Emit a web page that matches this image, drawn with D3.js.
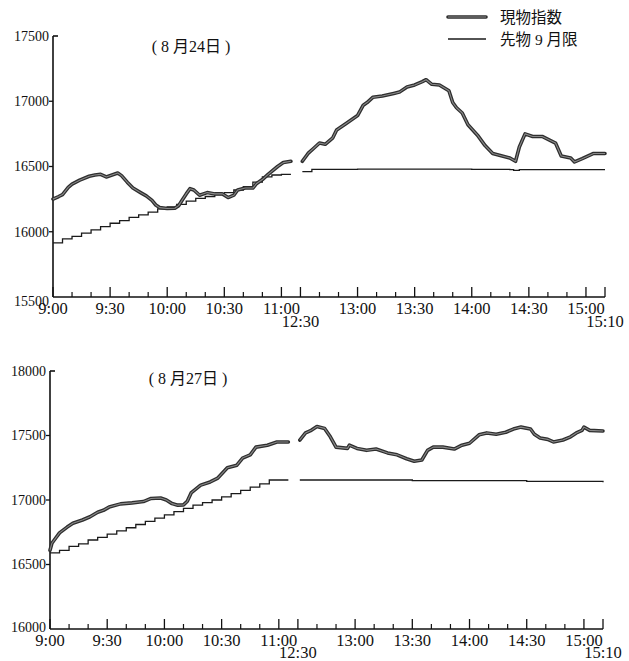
<!DOCTYPE html>
<html><head><meta charset="utf-8">
<script src="https://cdn.jsdelivr.net/npm/d3@7"></script>
<style>body{margin:0;background:#fff}svg{display:block}</style>
</head><body><svg id="c" width="629" height="661"></svg>
<script>
// ---------- data ----------
const seriesNames = ["現物指数", "先物 9 月限"];
const panelTitles = ["( 8 月24日 )", "( 8 月27日 )"];
const majorTickLabels = ["9:00","9:30","10:00","10:30","11:00","13:00","13:30","14:00","14:30","15:00"];
const secondRowLabels = ["12:30","15:10"];
const minorTickTimes = ["9:10","9:20","9:40","9:50","10:10","10:20","10:40","10:50","12:40","12:50","13:10","13:20","13:40","13:50","14:10","14:20","14:40","14:50"];
const yTicksTop = [15500,16000,16500,17000,17500];
const yTicksBottom = [16000,16500,17000,17500,18000];

// 8/24 cash index (現物指数)
const cash24Time = ["9:00","9:03","9:05","9:08","9:10","9:14","9:19","9:22","9:25","9:28","9:31","9:34","9:36","9:39","9:42","9:46","9:49","9:52","9:54","9:56","10:00","10:04","10:06","10:08","10:10","10:12","10:14","10:17","10:21","10:25","10:29","10:32","10:35","10:37","10:41","10:45","10:47","10:50","10:53","10:58","11:01","11:05",
 "12:31","12:34","12:37","12:40","12:43","12:47","12:49","12:54","13:00","13:03","13:05","13:08","13:13","13:19","13:22","13:26","13:30","13:34","13:36","13:39","13:43","13:48","13:50","13:52","13:55","13:58","14:03","14:07","14:11","14:15","14:20","14:23","14:25","14:28","14:32","14:37","14:44","14:47","14:52","14:54","14:58","15:04","15:10"];
const cash24Value = [16250,16270,16285,16340,16365,16395,16425,16435,16440,16420,16435,16450,16430,16380,16335,16300,16275,16240,16205,16185,16178,16180,16200,16245,16290,16330,16320,16280,16300,16290,16290,16262,16280,16320,16335,16335,16370,16400,16440,16500,16530,16540,
 16540,16600,16640,16680,16670,16720,16780,16830,16890,16970,16990,17030,17040,17060,17070,17110,17125,17150,17165,17130,17125,17080,16990,16950,16910,16820,16740,16660,16600,16585,16565,16540,16650,16750,16730,16730,16680,16580,16565,16535,16560,16600,16600];

// 8/24 futures (先物9月限)
const fut24Time = ["9:00","9:05","9:10","9:15","9:20","9:25","9:30","9:35","9:40","9:45","9:50","9:55","10:00","10:05","10:10","10:15","10:20","10:25","10:30","10:35","10:40","10:45","10:50","10:55","11:00","11:05",
 "12:31","12:36","13:00","13:30","14:00","14:20","14:22","14:25","15:10"];
const fut24Value = [15915,15945,15965,15990,16015,16040,16065,16085,16110,16130,16150,16175,16190,16210,16235,16255,16270,16285,16300,16320,16345,16380,16420,16435,16440,16440,
 16460,16478,16480,16480,16478,16476,16470,16476,16476];

// 8/27 cash index
const cash27Time = ["9:00","9:01","9:03","9:05","9:09","9:12","9:17","9:21","9:25","9:28","9:31","9:37","9:43","9:49","9:53","9:58","10:01","10:04","10:07","10:10","10:12","10:14","10:19","10:24","10:28","10:33","10:38","10:41","10:45","10:48","10:54","10:59","11:05",
 "12:31","12:34","12:37","12:40","12:44","12:47","12:50","12:56","12:57","13:01","13:06","13:11","13:17","13:22","13:27","13:31","13:35","13:38","13:41","13:46","13:52","13:56","14:00","14:05","14:09","14:14","14:19","14:23","14:27","14:32","14:34","14:37","14:41","14:44","14:49","14:53","14:56","14:59","15:00","15:03","15:10"];
const cash27Value = [16610,16665,16705,16745,16790,16820,16845,16870,16905,16920,16945,16970,16978,16988,17012,17015,17000,16972,16960,16962,16990,17055,17115,17140,17170,17250,17270,17325,17350,17410,17425,17450,17450,
 17465,17520,17540,17570,17555,17490,17410,17400,17425,17400,17385,17395,17365,17350,17320,17300,17310,17385,17410,17410,17395,17425,17440,17505,17520,17510,17525,17550,17565,17550,17510,17480,17470,17450,17465,17490,17520,17540,17565,17540,17535];

// 8/27 futures
const fut27Time = ["9:00","9:05","9:10","9:15","9:20","9:25","9:30","9:35","9:40","9:45","9:50","9:55","10:00","10:05","10:10","10:15","10:20","10:25","10:30","10:35","10:40","10:45","10:50","10:55","11:00","11:05",
 "12:31","13:30","14:30","15:10"];
const fut27Value = [16590,16610,16640,16660,16690,16710,16735,16760,16785,16810,16835,16860,16885,16910,16935,16960,16980,17000,17025,17050,17075,17100,17125,17155,17155,17155,
 17155,17150,17145,17138];

// ---------- helpers ----------
function axisMin(t){ const [h,m]=t.split(":").map(Number); return h<12 ? (h-9)*60+m : 130 + (h*60+m-750); }
function zip(ts, vs){ return ts.map((t,i)=>({t:axisMin(t), v:vs[i], am: axisMin(t)<=125})); }

const svg = d3.select("#c");
svg.append("rect").attr("width",629).attr("height",661).attr("fill","#fff");
const serif = "'Liberation Serif','Times New Roman',serif";
const cjk = "'Liberation Serif','Noto Sans CJK JP',serif";

const panels = [
  {title: panelTitles[0], titleX: 191, titleY: 52, xr:[53,605], yr:[297,36], dom:[15500,17500], ticks:yTicksTop, cash: zip(cash24Time,cash24Value), fut: zip(fut24Time,fut24Value), firstLabelShift:4, row2:30},
  {title: panelTitles[1], titleX: 188, titleY: 384, xr:[50,603], yr:[629,371], dom:[16000,18000], ticks:yTicksBottom, cash: zip(cash27Time,cash27Value), fut: zip(fut27Time,fut27Value), firstLabelShift:-2, row2:29}
];

function drawCash(g, pts, line){
  g.append("path").attr("d", line(pts)).attr("fill","none").attr("stroke","#2e2e2e").attr("stroke-width",3.6).attr("stroke-linejoin","round").attr("stroke-linecap","round");
  g.append("path").attr("d", line(pts)).attr("fill","none").attr("stroke","#8a8a8a").attr("stroke-width",1.1).attr("stroke-linejoin","round");
}

panels.forEach(p=>{
  const x = d3.scaleLinear().domain([0,290]).range(p.xr);
  const y = d3.scaleLinear().domain(p.dom).range(p.yr);
  const g = svg.append("g");
  const x0 = p.xr[0], y0 = p.yr[0];

  // y axis
  g.append("line").attr("x1",x0).attr("x2",x0).attr("y1",p.yr[1]).attr("y2",y0).attr("stroke","#111").attr("stroke-width",1.6);
  g.append("line").attr("x1",x0).attr("x2",x0+5).attr("y1",p.yr[1]).attr("y2",p.yr[1]).attr("stroke","#111").attr("stroke-width",1.6);
  p.ticks.forEach((v,i)=>{
    if(i>0 && i<p.ticks.length-1) g.append("line").attr("x1",x0-4).attr("x2",x0).attr("y1",y(v)).attr("y2",y(v)).attr("stroke","#111").attr("stroke-width",1.3);
    g.append("text").attr("x",x0-4).attr("y",y(v)+(i===0?p.firstLabelShift:0)).attr("dy","0.35em").attr("text-anchor","end")
      .attr("font-family",serif).attr("font-size",14).attr("fill","#111").text(v);
  });

  // x axis
  g.append("line").attr("x1",x0).attr("x2",p.xr[1]).attr("y1",y0).attr("y2",y0).attr("stroke","#111").attr("stroke-width",1.6);
  const majors = majorTickLabels.concat(secondRowLabels);
  majors.forEach(t=>{
    g.append("line").attr("x1",x(axisMin(t))).attr("x2",x(axisMin(t))).attr("y1",y0).attr("y2",y0-10).attr("stroke","#111").attr("stroke-width",1.3);
  });
  minorTickTimes.forEach(t=>{
    g.append("line").attr("x1",x(axisMin(t))).attr("x2",x(axisMin(t))).attr("y1",y0).attr("y2",y0-5).attr("stroke","#111").attr("stroke-width",1.2);
  });
  majorTickLabels.forEach(t=>{
    g.append("text").attr("x",x(axisMin(t))).attr("y",y0+17).attr("text-anchor","middle")
      .attr("font-family",serif).attr("font-size",16.5).attr("fill","#111").text(t);
  });
  secondRowLabels.forEach(t=>{
    g.append("text").attr("x",x(axisMin(t))).attr("y",y0+p.row2).attr("text-anchor","middle")
      .attr("font-family",serif).attr("font-size",16.5).attr("fill","#111").text(t);
  });

  // title
  g.append("text").attr("x",p.titleX).attr("y",p.titleY).attr("text-anchor","middle")
    .attr("font-family",cjk).attr("font-size",16).attr("fill","#111").text(p.title);

  // futures (stepped)
  const stepLine = d3.line().x(d=>x(d.t)).y(d=>y(d.v)).curve(d3.curveStepAfter);
  [true,false].forEach(am=>{
    const pts = p.fut.filter(d=>d.am===am);
    g.append("path").attr("d", stepLine(pts)).attr("fill","none").attr("stroke","#1a1a1a").attr("stroke-width",1.3);
  });
  // cash
  const cashLine = d3.line().x(d=>x(d.t)).y(d=>y(d.v)).curve(d3.curveLinear);
  [true,false].forEach(am=>{
    drawCash(g, p.cash.filter(d=>d.am===am), cashLine);
  });
});

// legend
const lg = svg.append("g");
const legLine = d3.line();
drawCash(lg, [[448,17],[486,17]], legLine);
lg.append("line").attr("x1",448).attr("x2",486).attr("y1",39).attr("y2",39).attr("stroke","#1a1a1a").attr("stroke-width",1.3);
lg.append("text").attr("x",500).attr("y",23).attr("font-family","'Noto Sans CJK JP',sans-serif").attr("font-size",15.5).attr("fill","#111").text(seriesNames[0]);
lg.append("text").attr("x",500).attr("y",45).attr("font-family",cjk).attr("font-size",15.5).attr("fill","#111").text(seriesNames[1]);
</script></body></html>
